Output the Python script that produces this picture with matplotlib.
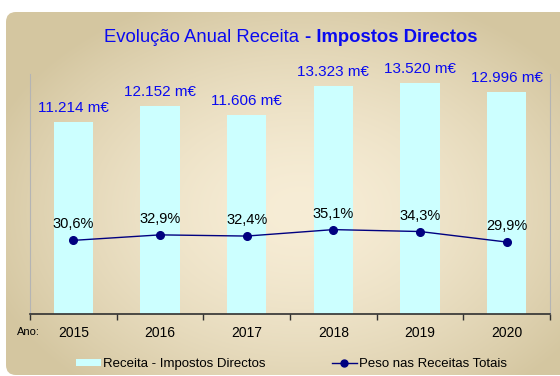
import matplotlib.pyplot as plt
import numpy as np
from matplotlib.lines import Line2D
from matplotlib.patches import FancyBboxPatch, Patch

plt.rcParams["font.family"] = ["Liberation Sans", "DejaVu Sans"]

anos = ["2015", "2016", "2017", "2018", "2019", "2020"]
receita = [11214, 12152, 11606, 13323, 13520, 12996]  # m€
peso = [30.6, 32.9, 32.4, 35.1, 34.3, 29.9]  # % das receitas totais

BAR_COLOR = "#ccffff"
LINE_COLOR = "#000080"
BLUE = "#0a0af0"
W, H = 560, 376


def fmt_receita(v: int) -> str:
    return f"{v:,}".replace(",", ".") + " m€"


def fmt_peso(p: float) -> str:
    return f"{p:.1f}".replace(".", ",") + "%"


fig = plt.figure(figsize=(W / 100, H / 100), dpi=100)
fig.patch.set_facecolor("white")

# painel de fundo com gradiente radial e cantos arredondados
bg = fig.add_axes([0, 0, 1, 1], zorder=-10)
bg.set_xlim(0, W)
bg.set_ylim(H, 0)
bg.axis("off")
yy, xx = np.mgrid[0:H, 0:W]
d = np.sqrt(((xx - 300) / 330) ** 2 + ((yy - 210) / 230) ** 2)
d = np.clip(d, 0, 1) ** 1.6
centro = np.array([247, 237, 214]) / 255
borda = np.array([212, 198, 160]) / 255
img = centro[None, None, :] * (1 - d[..., None]) + borda[None, None, :] * d[..., None]
im = bg.imshow(img, extent=[0, W, H, 0], interpolation="bilinear")
painel = FancyBboxPatch((6, 12), 620, 363, boxstyle="round,pad=0,rounding_size=10",
                        facecolor="none", edgecolor="none")
bg.add_patch(painel)
im.set_clip_path(painel)

# eixo principal: receita (barras)
ax = fig.add_axes([30 / W, (H - 313.5) / H, 520 / W, 239 / H])
ax.patch.set_visible(False)
x = np.arange(len(anos))
ax.bar(x, receita, width=0.455, color=BAR_COLOR, edgecolor="none", zorder=2)
ax.set_xlim(-0.5, len(anos) - 0.5)
ax.set_ylim(0, 14000)

for xi, v in zip(x, receita):
    ax.annotate(fmt_receita(v), (xi, v), xytext=(0, 10), textcoords="offset points",
                ha="center", va="center", fontsize=11, color=BLUE)

ax.set_xticks(np.arange(-0.5, len(anos)))
ax.set_xticklabels([])
ax.set_xticks(x, minor=True)
ax.set_xticklabels(anos, minor=True, fontsize=10)
ax.tick_params(axis="x", which="major", direction="out", length=4, width=1, color="#303030")
ax.tick_params(axis="x", which="minor", length=0, pad=9)
ax.set_yticks([])
for side in ["left", "right"]:
    ax.spines[side].set_color("#b4b4b4")
    ax.spines[side].set_linewidth(0.8)
ax.spines["top"].set_visible(False)
ax.spines["bottom"].set_color("#303030")
ax.spines["bottom"].set_linewidth(1.2)

# eixo secundário: peso nas receitas totais (linha)
ax2 = ax.twinx()
ax2.set_ylim(0, 100)
ax2.plot(x, peso, color=LINE_COLOR, lw=1, marker="o", ms=5.5, zorder=3)
for xi, p in zip(x, peso):
    ax2.annotate(fmt_peso(p), (xi, p), xytext=(0, 11.5), textcoords="offset points",
                 ha="center", va="center", fontsize=10.5, color="black")
ax2.set_yticks([])
for s in ax2.spines.values():
    s.set_visible(False)

# título: parte normal + parte a negrito
t1 = fig.text(103.5 / W, (H - 37.5) / H, "Evolução Anual Receita", ha="left", va="center",
              fontsize=13.3, color=BLUE)
ax.annotate("- Impostos Directos", xy=(1, 0.5), xycoords=t1, xytext=(4.5, 0),
            textcoords="offset points", ha="left", va="center", fontsize=13.3,
            fontweight="bold", color=BLUE, annotation_clip=False)

fig.text(16.7 / W, (H - 332) / H, "Ano:", ha="left", va="center", fontsize=8)

handles = [
    Patch(facecolor=BAR_COLOR, edgecolor="none"),
    Line2D([], [], color=LINE_COLOR, lw=1, marker="o", ms=5),
]
fig.legend(handles, ["Receita - Impostos Directos", "Peso nas Receitas Totais"],
           ncol=2, loc="center left", bbox_to_anchor=(76 / W, (H - 364) / H),
           frameon=False, fontsize=9.5, handlelength=1.9, handleheight=0.5,
           handletextpad=0.15, columnspacing=5.0, borderpad=0, borderaxespad=0)

fig.savefig("out.png", dpi=100)
